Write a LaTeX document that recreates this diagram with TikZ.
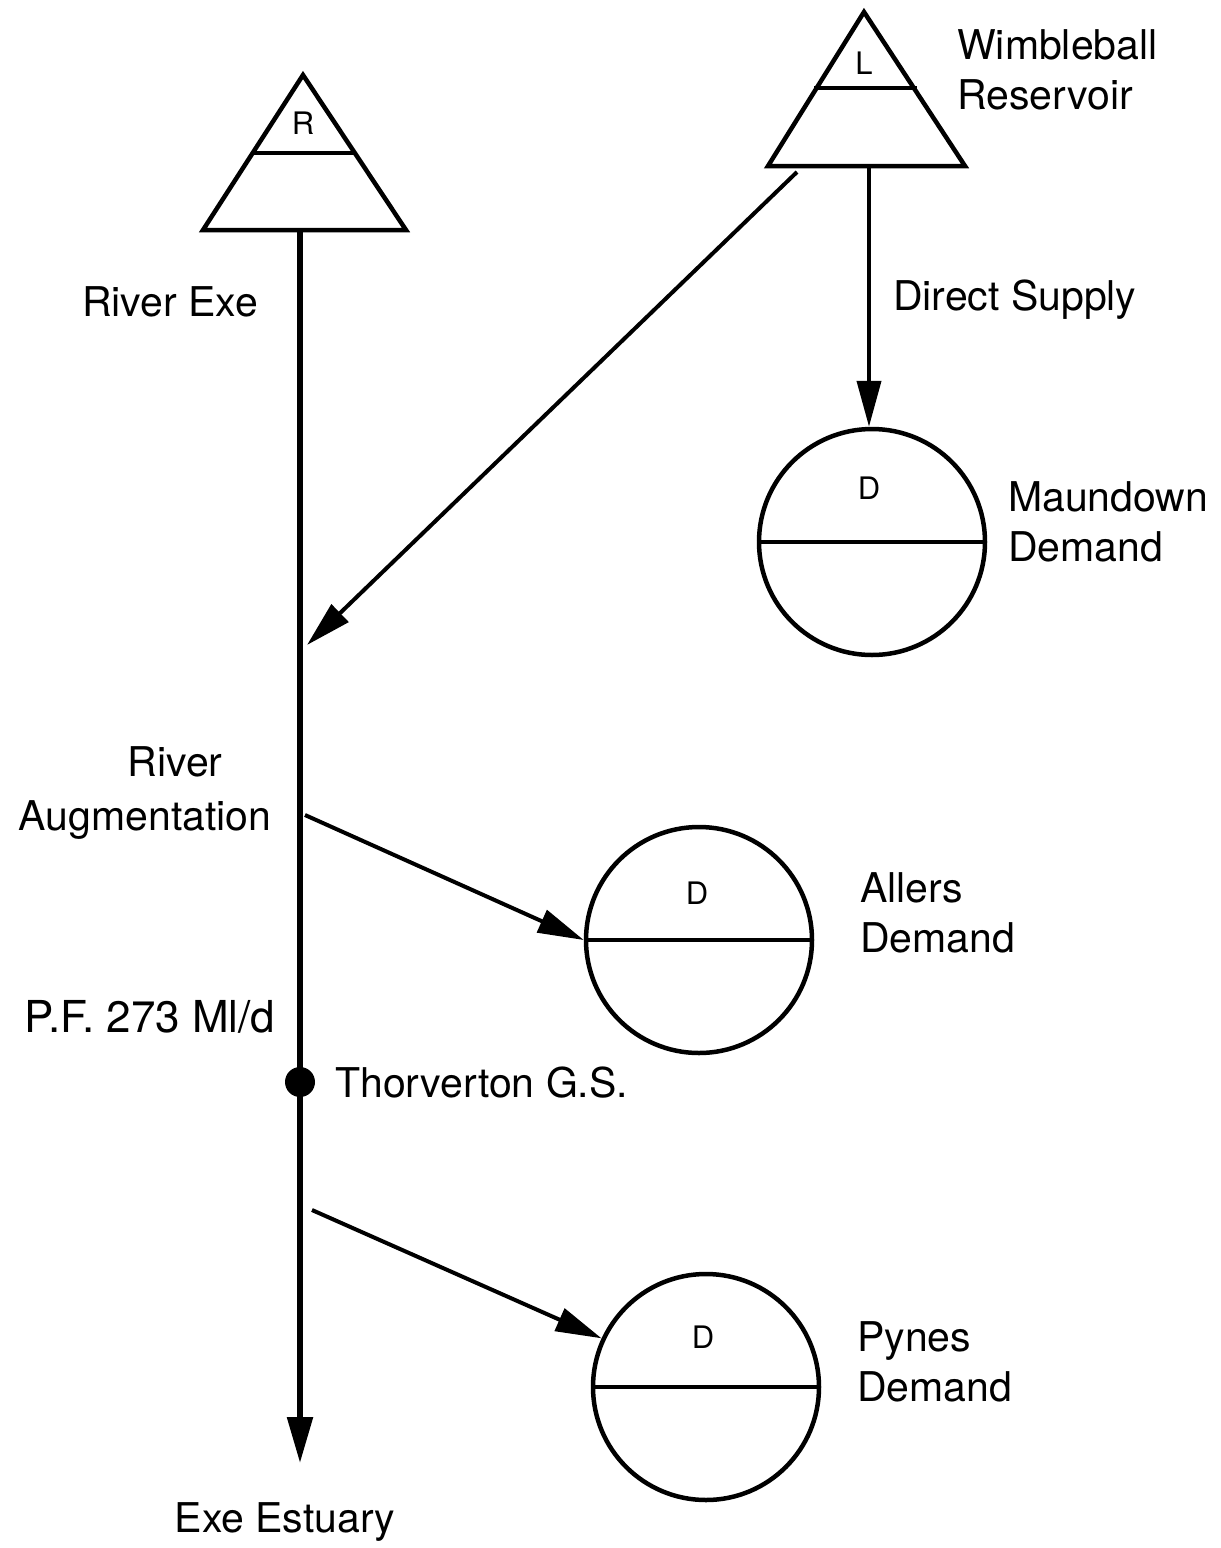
\documentclass[tikz,border=0pt]{standalone}
\usepackage{fontspec}
\setmainfont{TeX Gyre Heros}
\usetikzlibrary{arrows.meta}
\tikzset{
  lbl/.style={font=\fontsize{41}{50}\selectfont, inner sep=0pt, align=left},
  dlab/.style={font=\fontsize{31}{36}\selectfont, inner sep=0pt},
  demand/.style={circle, draw, line width=4.5pt, minimum size=226pt, inner sep=0pt},
  tri/.style={line width=4.5pt, line join=miter},
  divider/.style={line width=3.5pt},
  flow/.style={line width=4pt, -{Triangle[length=46pt,width=24pt]}},
  river/.style={line width=5.5pt, -{Triangle[length=46pt,width=25pt]}},
  gauge/.style={circle, fill, minimum size=30pt, inner sep=0pt}
}
\begin{document}
\begin{tikzpicture}[x=1pt,y=-1pt]
\useasboundingbox[fill=white] (0,0) rectangle (1221,1548);

% River Exe triangle
\draw[tri] (303,75) -- (406,230) -- (203,230) -- cycle;
\draw[divider] (253,153) -- (356,153);
\node[dlab] (rlet) at (303,123) {R};
\coordinate (rbase) at (300,230);

% Wimbleball triangle
\draw[tri] (864,12) -- (965,166) -- (768,166) -- cycle;
\draw[divider] (814,88) -- (917,88);
\node[dlab] (llet) at (864,63) {L};
\coordinate (lbase) at (869,166);
\coordinate (lleft) at (797,172);

% demand circles
\node[demand] (maun) at (872,542) {};
\draw[divider] (maun.west) -- (maun.east);
\node[dlab] (dm) at (869,488) {D};

\node[demand] (allers) at (699,940) {};
\draw[divider] (allers.west) -- (allers.east);
\node[dlab] (da) at (697,893) {D};

\node[demand] (pynes) at (706,1387) {};
\draw[divider] (pynes.west) -- (pynes.east);
\node[dlab] (dp) at (703,1337) {D};

% gauging station
\node[gauge] (tg) at (300,1082) {};

% coordinates on the river
\coordinate (join) at (307,645);
\coordinate (offa) at (305,815);
\coordinate (offp) at (312,1210);
\coordinate (tip) at (300,1463);

% connectors
\draw[river] (rbase) -- (tip);
\draw[flow] (lbase) -- (lbase |- maun.north);
\draw[flow] (lleft) -- (join);
\draw[flow] (offa) -- (allers.west);
\draw[flow] (offp) -- (pynes.155);

% labels
\node[lbl, anchor=west] (wimb) at (957,70) {Wimbleball\\Reservoir};
\node[lbl] (rexe) at (170,302) {River Exe};
\node[lbl, anchor=west] (ds) at (893,300) {Direct Supply};
\node[lbl, anchor=west] (maunl) at (1008,522) {Maundown\\Demand};
\node[lbl] (rivaug1) at (175,762) {River};
\node[lbl] (rivaug2) at (145,820) {Augmentation};
\node[lbl, anchor=west] (allersl) at (860,913) {Allers\\Demand};
\node[lbl, font=\fontsize{44}{50}\selectfont] (pf) at (150,1017) {P.F. 273 Ml/d};
\node[lbl, anchor=west] (tgl) at (335,1083) {Thorverton G.S.};
\node[lbl, anchor=west] (pynesl) at (857,1362) {Pynes\\Demand};
\node[lbl] (est) at (285,1522) {Exe Estuary};
\end{tikzpicture}
\end{document}
